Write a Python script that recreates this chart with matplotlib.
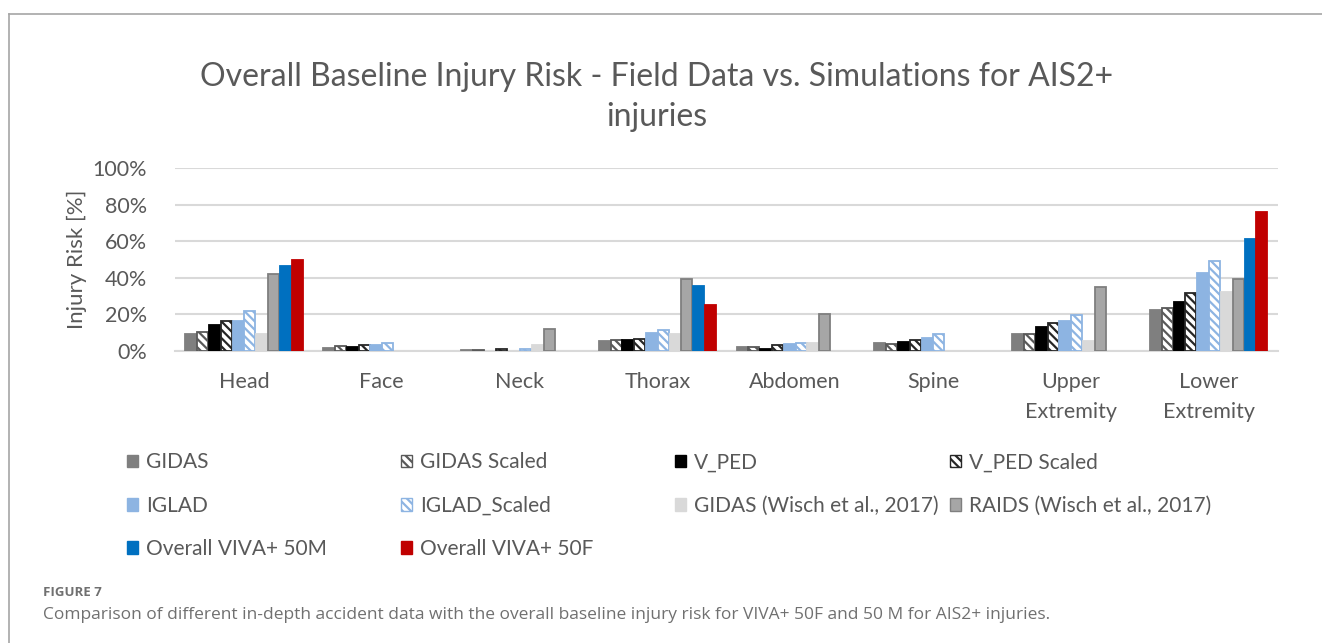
import numpy as np
import matplotlib
matplotlib.use("Agg")
import matplotlib.pyplot as plt
from matplotlib.patches import Patch
from matplotlib.lines import Line2D

plt.rcParams['font.family'] = ['Lato', 'DejaVu Sans']
plt.rcParams['hatch.linewidth'] = 1.6

# data (injury risk, fraction)
categories = ['Head', 'Face', 'Neck', 'Thorax', 'Abdomen', 'Spine',
              'Upper\nExtremity', 'Lower\nExtremity']
gidas        = [0.091, 0.018, 0.007, 0.055, 0.024, 0.042, 0.093, 0.224]
gidas_scaled = [0.104, 0.026, 0.007, 0.062, 0.020, 0.038, 0.093, 0.233]
v_ped        = [0.142, 0.020, 0.000, 0.062, 0.011, 0.051, 0.131, 0.269]
v_ped_scaled = [0.166, 0.031, 0.014, 0.067, 0.031, 0.062, 0.151, 0.315]
iglad        = [0.166, 0.033, 0.000, 0.098, 0.038, 0.071, 0.166, 0.428]
iglad_scaled = [0.219, 0.044, 0.010, 0.115, 0.046, 0.093, 0.197, 0.493]
gidas_wisch  = [0.091, 0.000, 0.033, 0.093, 0.042, 0.000, 0.055, 0.324]
raids_wisch  = [0.419, 0.000, 0.120, 0.395, 0.200, 0.000, 0.348, 0.392]
viva_50m     = [0.464, 0.000, 0.000, 0.355, 0.000, 0.000, 0.000, 0.612]
viva_50f     = [0.495, 0.000, 0.000, 0.253, 0.000, 0.000, 0.000, 0.760]

series = [
    ('GIDAS', gidas, dict(color='#7f7f7f', edgecolor='#7f7f7f')),
    ('GIDAS Scaled', gidas_scaled, dict(color='white', edgecolor='#595959', hatch='\\\\\\\\')),
    ('V_PED', v_ped, dict(color='black', edgecolor='black')),
    ('V_PED Scaled', v_ped_scaled, dict(color='white', edgecolor='#262626', hatch='\\\\\\\\')),
    ('IGLAD', iglad, dict(color='#8db4e2', edgecolor='#8db4e2')),
    ('IGLAD_Scaled', iglad_scaled, dict(color='white', edgecolor='#8db4e2', hatch='\\\\\\\\')),
    ('GIDAS (Wisch et al., 2017)', gidas_wisch, dict(color='#d9d9d9', edgecolor='#d9d9d9')),
    ('RAIDS (Wisch et al., 2017)', raids_wisch, dict(color='#a6a6a6', edgecolor='#7f7f7f')),
    ('Overall VIVA+ 50M', viva_50m, dict(color='#0070c0', edgecolor='#0070c0')),
    ('Overall VIVA+ 50F', viva_50f, dict(color='#c00000', edgecolor='#c00000')),
]

fig = plt.figure(figsize=(13.22, 6.43), dpi=100)
ax = fig.add_axes([0.1324, 0.454, 0.834, 0.2846])

x = np.arange(len(categories))
n = len(series)
w = 0.857 / n
handles = []
for i, (name, vals, st) in enumerate(series):
    off = (i - (n - 1) / 2) * w
    lw = [1.3 if v > 0 else 0 for v in vals]   # no outline on empty bars
    ax.bar(x + off, vals, w * 0.93, linewidth=lw, zorder=3, **st)
    handles.append(Patch(facecolor=st['color'], edgecolor=st['edgecolor'],
                         hatch=st.get('hatch'), linewidth=1.0, label=name))

ax.set_xlim(-0.5, len(categories) - 0.5)
ax.set_ylim(0, 1)
ax.set_yticks(np.arange(0, 1.01, 0.2))
ax.set_yticklabels(['0%', '20%', '40%', '60%', '80%', '100%'])
ax.set_xticks(x)
ax.set_xticklabels(categories, linespacing=1.6)
ax.grid(axis='y', color='#d9d9d9', linewidth=1.5, zorder=0)
for s in ['top', 'right', 'left']:
    ax.spines[s].set_visible(False)
ax.spines['bottom'].set_color('#d9d9d9')
ax.spines['bottom'].set_linewidth(1.5)
ax.tick_params(length=0, labelsize=15.5, colors='#595959')
ax.tick_params(axis='x', pad=15)
ax.tick_params(axis='y', pad=20)
ax.set_ylabel('Injury Risk [%]', fontsize=16, color='#595959', labelpad=4)

fig.text(0.497, 0.880, 'Overall Baseline Injury Risk - Field Data vs. Simulations for AIS2+',
         ha='center', va='center', fontsize=23, color='#595959')
fig.text(0.497, 0.818, 'injuries', ha='center', va='center', fontsize=23, color='#595959')

# legend, laid out in rows like the Excel legend
leg_x = [0.096, 0.3033, 0.5106, 0.7186]
leg_y = [0.281, 0.213, 0.146]
for k, h in enumerate(handles):
    r, c = divmod(k, 4)
    lg = fig.legend(handles=[h], loc='center left', bbox_to_anchor=(leg_x[c], leg_y[r]),
                    frameon=False, fontsize=15, handlelength=0.55, handleheight=0.55,
                    handletextpad=0.35, borderpad=0, borderaxespad=0)
    for t in lg.get_texts():
        t.set_color('#595959')

# frame lines of the figure panel
fig.add_artist(Line2D([0.007, 0.007], [0.0, 0.978], color='#a6a6a6', linewidth=1.2))
fig.add_artist(Line2D([0.007, 1.0], [0.978, 0.978], color='#a6a6a6', linewidth=1.2))

fig.text(0.0325, 0.0778, 'FIGURE 7', fontsize=9.5, fontweight='bold', color='#707070',
         family=['Open Sans', 'DejaVu Sans'], va='center')
fig.text(0.0325, 0.0435, 'Comparison of different in-depth accident data with the overall baseline '
         'injury risk for VIVA+ 50F and 50 M for AIS2+ injuries.',
         fontsize=12.5, color='#707070', family=['Open Sans', 'DejaVu Sans'], va='center')

fig.savefig('out.png', dpi=100)
